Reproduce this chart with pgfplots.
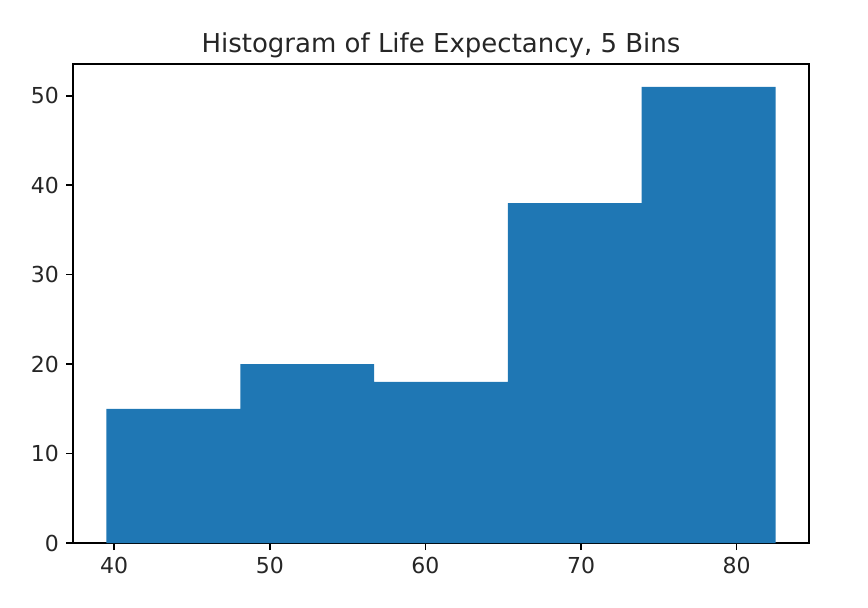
\documentclass[border=0pt]{standalone}
\usepackage{fontspec}
\setmainfont{DejaVu Sans}
\usepackage{pgfplots}
\pgfplotsset{compat=1.18}
\definecolor{mplblue}{HTML}{1F77B4}
\definecolor{tickgray}{HTML}{262626}
\begin{document}
\begin{tikzpicture}
\useasboundingbox (-36.5pt,-32pt) rectangle (397.5pt,271.5pt);
\begin{axis}[
  at={(0,0)}, anchor=south west,
  scale only axis,
  width=368pt, height=239.5pt,
  xmin=37.35, xmax=84.65,
  ymin=0, ymax=53.55,
  xtick={40,50,60,70,80},
  ytick={0,10,20,30,40,50},
  tick align=outside,
  xtick pos=bottom, ytick pos=left,
  major tick length=3.5pt,
  every tick/.style={black, line width=0.8pt},
  axis line style={line width=0.8pt, black},
  /pgf/number format/assume math mode=true,
  tick label style={font=\fontsize{11}{13}\selectfont, text=tickgray},
  title={Histogram of Life Expectancy, 5 Bins},
  title style={font=\fontsize{13}{15}\selectfont, text=tickgray, at={(0.5,1)}, anchor=base, yshift=-0.5pt, inner sep=0pt},
]
\addplot[ybar interval, fill=mplblue, draw=none] coordinates {
  (39.5,15) (48.1,20) (56.7,18) (65.3,38) (73.9,51) (82.5,51)
};
\end{axis}
\end{tikzpicture}
\end{document}
